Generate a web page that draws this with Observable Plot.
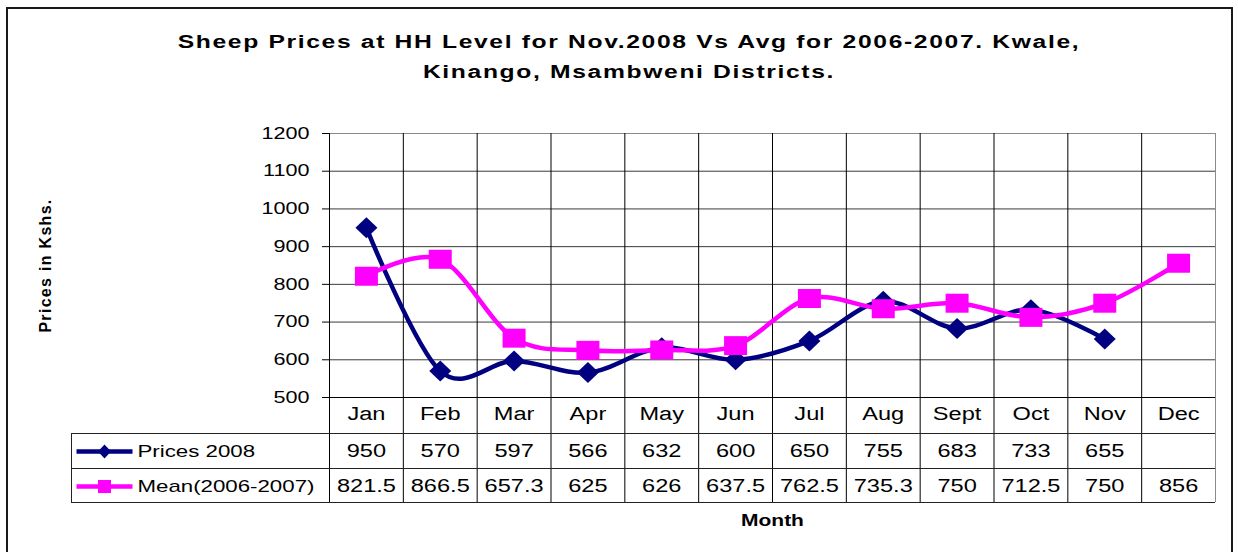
<!DOCTYPE html>
<html>
<head>
<meta charset="utf-8">
<script src="https://cdn.jsdelivr.net/npm/d3@7"></script>
<script src="https://cdn.jsdelivr.net/npm/@observablehq/plot@0.6"></script>
<style>
  html, body { margin: 0; padding: 0; background: #fff; }
  #wrap { position: relative; width: 1238px; height: 552px; overflow: hidden; font-family: "Liberation Sans", Arial, sans-serif; }
  #border { position: absolute; left: 6px; top: 7px; width: 1223px; height: 560px; border: 2px solid #1a1a1a; }
  #title { position: absolute; left: 10px; top: 27px; width: 1238px; text-align: center; font-weight: bold; font-size: 18px; letter-spacing: 1.2px; line-height: 30px; color: #000; transform: scaleX(1.37); transform-origin: 50% 50%; }
  #chart { position: absolute; left: 0; top: 0; }
</style>
</head>
<body>
<div id="wrap">
  <div id="border"></div>
  <div id="chart"></div>
  <div id="title">Sheep Prices at HH Level for Nov.2008 Vs Avg for 2006-2007. Kwale,<br>Kinango, Msambweni Districts.</div>
</div>
<script>
// ---- data ----
const months = ["Jan", "Feb", "Mar", "Apr", "May", "Jun", "Jul", "Aug", "Sept", "Oct", "Nov", "Dec"];
const prices2008 = [950, 570, 597, 566, 632, 600, 650, 755, 683, 733, 655, null];
const mean0607 = [821.5, 866.5, 657.3, 625, 626, 637.5, 762.5, 735.3, 750, 712.5, 750, 856];
const yTicks = [500, 600, 700, 800, 900, 1000, 1100, 1200];
const seriesNames = ["Prices 2008", "Mean(2006-2007)"];
const seriesColors = ["#000080", "#FF00FF"];
const yAxisLabel = "Prices in Kshs.";
const xAxisLabel = "Month";

// ---- derived tables ----
const rows2008 = months.map((m, i) => ({i, month: m, v: prices2008[i]})).filter(d => d.v != null);
const rowsMean = months.map((m, i) => ({i, month: m, v: mean0607[i]})).filter(d => d.v != null);
const monthRows = months.map((m, i) => ({i, month: m}));
const boundaries = months.map((m, i) => i).concat([months.length]);
const yMin = yTicks[0], yMax = yTicks[yTicks.length - 1];

// ---- custom symbols ----
const diamondBig = {draw(ctx) { ctx.moveTo(0, -10.5); ctx.lineTo(11, 0); ctx.lineTo(0, 10.5); ctx.lineTo(-11, 0); ctx.closePath(); }};
const squareBig = {draw(ctx) { ctx.rect(-11.5, -9.5, 23, 19); }};
const diamondSmall = {draw(ctx) { ctx.moveTo(0, -7); ctx.lineTo(6.5, 0); ctx.lineTo(0, 7); ctx.lineTo(-6.5, 0); ctx.closePath(); }};
const squareSmall = {draw(ctx) { ctx.rect(-6.5, -6.5, 13, 13); }};
const legendSeg = {draw(ctx) { ctx.moveTo(-28, 0); ctx.lineTo(28, 0); }};

const xc = d => d.i + 0.5;
const tableFont = 18;
const legendFont = 17;

const plot = Plot.plot({
  width: 1238,
  height: 552,
  marginLeft: 329,
  marginRight: 23,
  marginTop: 133,
  marginBottom: 155,
  style: {fontFamily: "'Liberation Sans', Arial, sans-serif", background: "transparent", color: "#000", overflow: "visible"},
  x: {domain: [0, months.length], axis: null},
  y: {domain: [yMin, yMax], axis: null},
  marks: [
    // horizontal gridlines
    Plot.gridY(yTicks.slice(1, -1), {stroke: "#3a3a3a", strokeOpacity: 1}),
    Plot.ruleY([yMax], {stroke: "#8a8a8a"}),
    // vertical gridlines extended through the data table
    Plot.ruleX(boundaries.slice(0, -1), {stroke: "#000", insetBottom: -105}),
    Plot.ruleX([months.length], {stroke: "#8a8a8a", insetBottom: -105}),
    // table horizontal lines
    Plot.ruleY([yMin], {stroke: "#000", insetLeft: -7}),
    Plot.ruleY([yMin], {stroke: "#222", dy: 36, insetLeft: -258}),
    Plot.ruleY([yMin], {stroke: "#222", dy: 71, insetLeft: -258}),
    Plot.ruleY([yMin], {stroke: "#222", dy: 105, insetLeft: -258}),
    Plot.ruleX([0], {stroke: "#222", dx: -258, insetTop: 300, insetBottom: -105}),
    // y axis
    Plot.axisY(yTicks, {tickSize: 7, tickPadding: 13, fontSize: 16.5, label: null, stroke: "#000", tickFormat: d => String(d)}),
    // series
    Plot.line(rows2008, {x: xc, y: "v", stroke: seriesColors[0], strokeWidth: 4.5, curve: "cardinal", tension: 0}),
    Plot.dot(rows2008, {x: xc, y: "v", symbol: diamondBig, fill: seriesColors[0], stroke: "none", r: 5}),
    Plot.line(rowsMean, {x: xc, y: "v", stroke: seriesColors[1], strokeWidth: 4.5, curve: "cardinal", tension: 0}),
    Plot.dot(rowsMean, {x: xc, y: "v", symbol: squareBig, fill: seriesColors[1], stroke: "none", r: 5}),
    // data table: month row
    Plot.text(monthRows, {x: xc, text: "month", frameAnchor: "bottom", lineAnchor: "middle", dy: 17, fontSize: tableFont}),
    // data table: values
    Plot.text(rows2008, {x: xc, text: d => String(d.v), frameAnchor: "bottom", lineAnchor: "middle", dy: 54, fontSize: tableFont}),
    Plot.text(rowsMean, {x: xc, text: d => String(d.v), frameAnchor: "bottom", lineAnchor: "middle", dy: 89, fontSize: tableFont}),
    // legend keys inside table
    Plot.dot([seriesNames[0]], {frameAnchor: "bottom-left", dx: -225, dy: 54, symbol: legendSeg, fill: "none", stroke: seriesColors[0], strokeWidth: 4.5, r: 5}),
    Plot.dot([seriesNames[0]], {frameAnchor: "bottom-left", dx: -225, dy: 54, symbol: diamondSmall, fill: seriesColors[0], stroke: "none", r: 5}),
    Plot.dot([seriesNames[1]], {frameAnchor: "bottom-left", dx: -225, dy: 89, symbol: legendSeg, fill: "none", stroke: seriesColors[1], strokeWidth: 4.5, r: 5}),
    Plot.dot([seriesNames[1]], {frameAnchor: "bottom-left", dx: -225, dy: 89, symbol: squareSmall, fill: seriesColors[1], stroke: "none", r: 5}),
    Plot.text([seriesNames[0]], {text: d => d, frameAnchor: "bottom-left", lineAnchor: "middle", dx: -192, dy: 54, textAnchor: "start", fontSize: legendFont}),
    Plot.text([seriesNames[1]], {text: d => d, frameAnchor: "bottom-left", lineAnchor: "middle", dx: -192, dy: 89, textAnchor: "start", fontSize: legendFont}),
    // axis titles
    Plot.text([yAxisLabel], {text: d => d, frameAnchor: "left", dx: -284, rotate: -90, textAnchor: "middle", lineAnchor: "middle", fontWeight: "bold", fontSize: 16}),
    Plot.text([xAxisLabel], {text: d => d, frameAnchor: "bottom", lineAnchor: "middle", dy: 123, fontWeight: "bold", fontSize: 16})
  ]
});

document.getElementById("chart").appendChild(plot);

// mimic the horizontally stretched rendering of the original spreadsheet chart:
// scale each text horizontally about its own anchor point (in its local coordinates)
const stretch = 1.31;
plot.querySelectorAll("text").forEach(t => {
  if (t.textContent === yAxisLabel) {
    t.style.letterSpacing = "1.3px";
    return;
  }
  const b = t.getBBox();
  const anchor = getComputedStyle(t).textAnchor;
  const ax = anchor === "end" ? b.x + b.width : anchor === "start" ? b.x : b.x + b.width / 2;
  const tr = t.getAttribute("transform") || "";
  t.setAttribute("transform", `${tr} translate(${ax},0) scale(${stretch},1) translate(${-ax},0)`.trim());
});
</script>
</body>
</html>
